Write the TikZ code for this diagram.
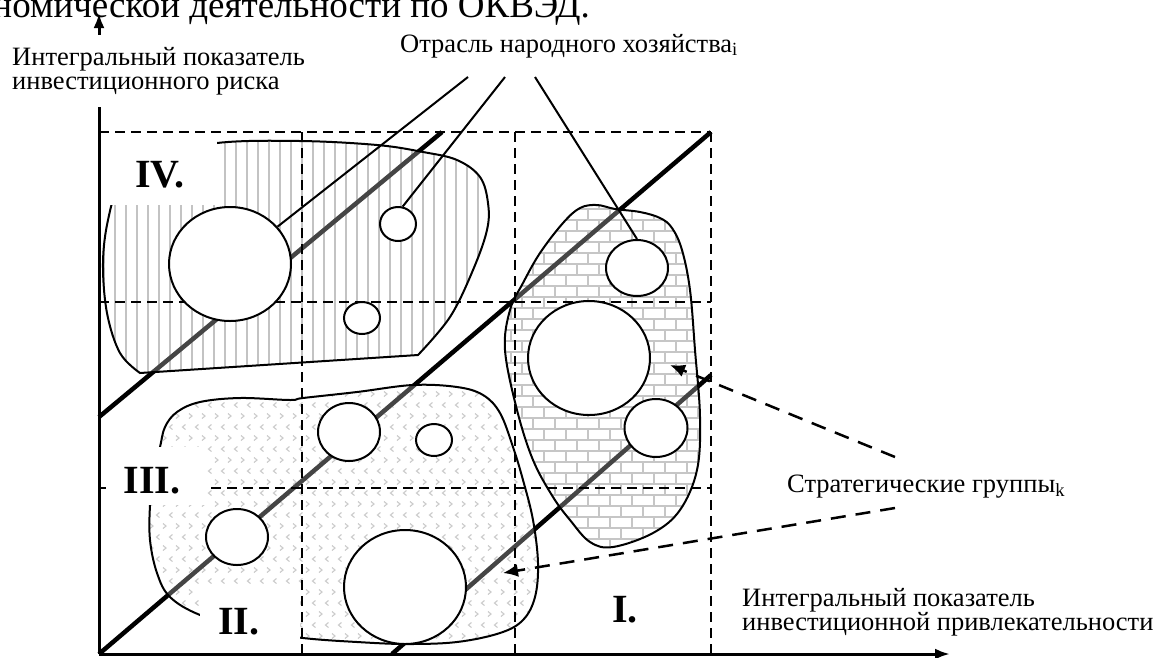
\documentclass[tikz,border=0pt]{standalone}
\usepackage{fontspec}
\setmainfont{Liberation Serif}
\usetikzlibrary{arrows.meta, shapes.geometric, positioning, calc}

\tikzset{
    % Axes and grid
    axisline/.style={line width=3pt, -{Latex[length=15pt,width=11pt]}},
    gridline/.style={line width=1.8pt, dash pattern=on 10pt off 6pt},
    diagline/.style={line width=4.5pt},
    % Blob styles
    blobline/.style={line width=2pt},
    blobveil/.style={fill=white, opacity=0.27},
    stripe/.style={line width=2.5pt, black!32},
    brick/.style={line width=2pt, black!30},
    chevron/.style={line width=1.1pt, black!28},
    % Branch circles
    firm/.style={ellipse, draw, line width=2pt, fill=white, inner sep=0pt},
    leader/.style={line width=2pt},
    dasharrow/.style={line width=2.5pt, dash pattern=on 15pt off 10pt,
        -{Latex[length=15pt,width=13pt]}},
    % Text styles
    axislabel/.style={font=\fontsize{26.5}{24}\selectfont, align=left, inner sep=0pt},
    quadlabel/.style={font=\fontsize{40}{40}\selectfont\bfseries, inner sep=0pt}
}

% blob outlines
\def\blobIV{plot[smooth, tension=0.6] coordinates {(140,373) (120,353) (107,313)
    (103,263) (108,220) (120,185) (150,158) (217,143) (300,141) (377,145) (423,152)
    (457,160) (480,177) (488,203) (487,230) (473,270) (450,317) (418,355)} -- cycle}
\def\blobI{plot[smooth cycle, tension=0.6] coordinates {(597,205) (615,209) (640,212)
    (660,218) (672,228) (682,250) (690,290) (695,350) (700,417) (697,470) (680,510)
    (653,533) (613,547) (590,542) (570,520) (553,497) (533,460) (517,410) (505,350)
    (510,310) (523,283) (540,253) (563,223) (580,208)}}
\def\blobII{plot[smooth cycle, tension=0.6] coordinates {(160,447) (165,427) (177,412)
    (200,402) (240,398) (290,400) (303,398) (357,392) (413,385) (457,387) (483,395)
    (500,413) (513,447) (523,480) (533,520) (538,563) (535,597) (523,620) (500,633)
    (457,642) (407,644) (357,642) (303,638) (250,630) (200,615) (170,597) (157,573)
    (150,540) (150,505) (153,475)}}

\begin{document}
\begin{tikzpicture}[x=1pt, y=-1pt]
    \fill[white] (0,0) rectangle (1156,657);
    \useasboundingbox (0,0) rectangle (1156,657);

    % Line of text above the figure
    \node[font=\fontsize{37}{37}\selectfont, anchor=base east, inner sep=0pt] (headline)
        at (590,17) {экономической деятельности по ОКВЭД.};

    % Group IV - stripes
    \begin{scope}
        \clip \blobIV;
        \foreach \x in {104,115,...,490}
            \draw[stripe] (\x,135) -- (\x,380);
    \end{scope}

    % Group I - bricks
    \begin{scope}
        \clip \blobI;
        \foreach \r in {0,...,31}{
            \pgfmathsetmacro{\yy}{198+11*\r}
            \pgfmathsetmacro{\off}{mod(\r,2)*11}
            \draw[brick] (500,\yy) -- (705,\yy);
            \foreach \k in {0,...,9}
                \draw[brick] ({489+\off+22*\k},\yy) -- ++(0,11);
        }
    \end{scope}

    % Group II/III - chevrons
    \begin{scope}
        \clip \blobII;
        \foreach \r in {0,...,25}{
            \pgfmathsetmacro{\yy}{383+11*\r}
            \pgfmathsetmacro{\dir}{1-2*mod(\r,2)}
            \pgfmathsetmacro{\off}{mod(\r,2)*6.5}
            \foreach \k in {0,...,31}
                \draw[chevron] ({145+\off+13*\k+1.5*\dir},{\yy-2.5}) -- ++({-3*\dir},2.5) -- ++({3*\dir},2.5);
        }
    \end{scope}

    % Diagonals, greyed where they cross a group
    \coordinate (O) at (99,654);
    \draw[diagline] (O) -- (711,132);
    \draw[diagline] (99,417) -- (442,132);
    \draw[diagline] (392,654) -- (711,375);
    \fill[blobveil] \blobIV;
    \fill[blobveil] \blobI;
    \fill[blobveil] \blobII;

    % Grid
    \foreach \x in {302,515,711}
        \draw[gridline] (\x,132) -- (\x,654);
    \foreach \y in {132,302,488}
        \draw[gridline] (99,\y) -- (711,\y);

    % Outlines
    \draw[blobline] \blobIV;
    \draw[blobline] \blobI;
    \draw[blobline] \blobII;

    % Boxes behind quadrant numbers
    \fill[white] (101,136) rectangle (217,205);
    \fill[white] (106,447) rectangle (207,505);
    \fill[white] (200,587) rectangle (300,652);

    % Branches
    \node[firm, minimum width=122pt, minimum height=114pt] (fIVa) at (230,264) {};
    \node[firm, minimum width=36pt, minimum height=34pt] (fIVb) at (398,224) {};
    \node[firm, minimum width=36pt, minimum height=32pt] (fIVc) at (362,318) {};
    \node[firm, minimum width=62pt, minimum height=56pt] (fIa) at (637,268) {};
    \node[firm, minimum width=122pt, minimum height=114pt] (fIb) at (589,358) {};
    \node[firm, minimum width=63pt, minimum height=58pt] (fIc) at (656,428) {};
    \node[firm, minimum width=62pt, minimum height=58pt] (fIIa) at (349,432) {};
    \node[firm, minimum width=36pt, minimum height=32pt] (fIIb) at (434,440) {};
    \node[firm, minimum width=62pt, minimum height=56pt] (fIIc) at (237,537) {};
    \node[firm, minimum width=122pt, minimum height=114pt] (fIId) at (405,587) {};

    % Branch label and leaders
    \node[axislabel, anchor=base west] (branch) at (400,52)
        {Отрасль народного хозяйства\textsubscript{i}};
    \coordinate (bA) at (468,77);
    \coordinate (bB) at (505,77);
    \coordinate (bC) at (535,77);
    \draw[leader] (bA) -- (fIVa);
    \draw[leader] (bB) -- (fIVb.75);
    \draw[leader] (bC) -- (fIa.north);

    % Quadrant numbers
    \node[quadlabel] (qIV) at (160,175) {IV.};
    \node[quadlabel] (qIII) at (152,481) {III.};
    \node[quadlabel] (qII) at (239,622) {II.};
    \node[quadlabel] (qI) at (625,610) {I.};

    % Axes
    \draw[axisline] (O) -- (950,654);
    \draw[axisline] (O) -- (99,13);
    \node[axislabel, anchor=base west, fill=white, inner ysep=12pt] (ylab) at (12,89)
        {Интегральный показатель\\инвестиционного риска};
    \node[axislabel, anchor=base west] (xlab) at (742,630)
        {Интегральный показатель\\инвестиционной привлекательности};

    % Strategic groups
    \node[axislabel, anchor=base west] (group) at (787,492)
        {Стратегические группы\textsubscript{k}};
    \coordinate (gA) at (895,457);
    \coordinate (gB) at (895,508);
    \coordinate (tA) at (670,365);
    \coordinate (tB) at (503,573);
    \draw[dasharrow] (gA) -- (tA);
    \draw[dasharrow] (gB) -- (tB);
\end{tikzpicture}
\end{document}
